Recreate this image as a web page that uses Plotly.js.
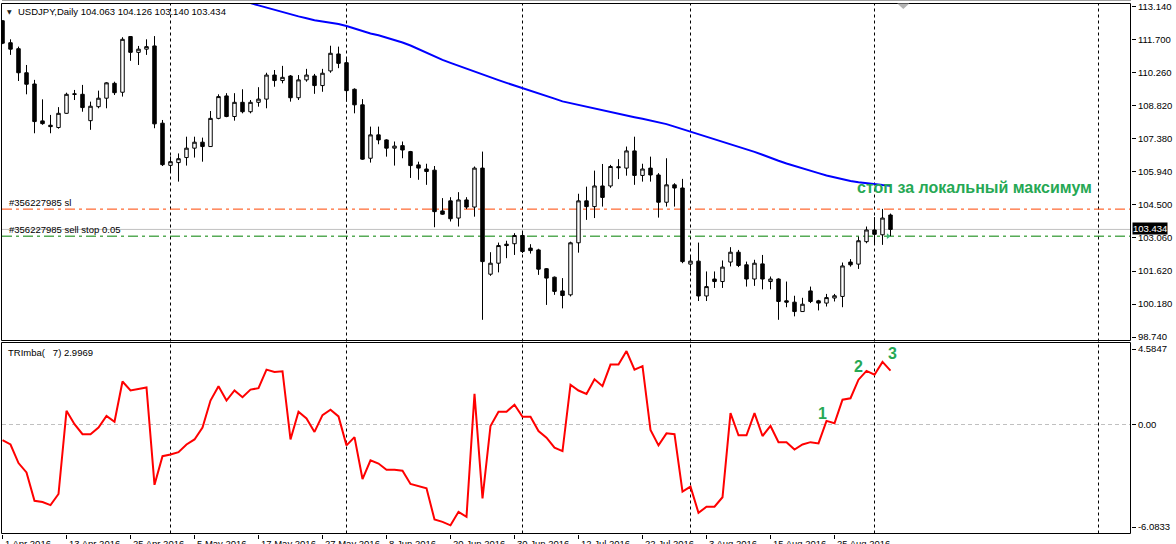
<!DOCTYPE html>
<html><head><meta charset="utf-8">
<script src="https://cdn.plot.ly/plotly-3.0.1.min.js"></script>
<style>html,body{margin:0;padding:0;background:#fff;overflow:hidden}#chart{width:1176px;height:544px}</style>
</head><body><div id="chart"></div>
<script>
// ---------------- DATA ----------------
const headerText = "USDJPY,Daily 104.063 104.126 103.140 103.434";
const indicatorText = "TRImba(\u00a0\u00a0\u00a07) 2.9969";
const noteText = "стоп за локальный максимум";
const slLabel = "#356227985 sl";
const sellStopLabel = "#356227985 sell stop 0.05";
const pointLabels = ["1", "2", "3"];

const openP = [112.54,111.58,111.32,110.27,109.78,108.17,107.98,107.88,108.50,109.35,
109.33,108.18,108.79,109.16,109.81,109.42,111.85,111.16,111.30,111.44,
108.07,106.23,106.35,106.57,106.98,107.24,107.05,108.28,109.26,108.36,
108.98,108.57,108.98,109.12,110.17,109.93,110.13,109.18,109.96,110.13,
109.71,110.35,111.09,110.71,109.55,108.87,106.54,107.56,107.34,106.98,
107.09,106.83,106.25,106.07,106.02,104.24,104.68,103.93,104.72,104.41,
106.11,101.48,101.96,102.79,102.81,103.17,102.62,102.54,101.72,101.35,
100.75,100.58,102.85,104.68,104.43,105.33,105.33,106.17,106.11,106.86,
105.79,106.11,105.81,104.62,105.38,105.24,101.92,102.05,100.53,101.27,
101.16,102.01,102.44,101.89,101.27,101.93,101.16,101.27,100.32,100.26,
99.85,100.75,100.32,100.22,100.44,100.51,102.01,101.92,102.90,103.41,
103.20,104.063];
const highP = [112.56,111.73,111.41,110.61,109.96,109.11,108.43,108.77,109.40,109.52,
109.74,109.01,109.49,109.86,109.88,111.82,111.87,111.44,111.73,111.87,
108.21,106.62,106.75,107.48,107.48,107.44,108.60,109.33,109.38,109.38,
109.55,109.08,109.64,110.27,110.39,110.57,110.17,110.17,110.44,110.22,
110.44,111.45,111.41,110.90,109.59,109.12,107.92,107.92,107.37,107.27,
107.27,106.86,106.39,106.30,106.20,104.80,104.84,105.06,104.84,106.18,
106.83,102.44,102.86,102.94,103.27,103.30,102.79,102.59,101.75,101.38,
101.31,102.90,104.99,105.30,106.00,106.29,106.25,106.50,107.05,107.48,
106.30,106.61,105.89,106.54,105.45,105.64,102.30,102.86,101.60,101.60,
102.08,102.66,102.54,102.03,102.11,102.32,101.38,101.30,101.16,100.54,
100.45,100.94,100.36,100.62,100.62,101.99,102.14,103.12,103.56,103.97,
104.33,104.126];
const lowP = [111.52,111.05,109.91,109.33,107.63,108.00,107.63,107.83,108.48,109.08,
108.57,107.78,108.72,108.72,109.30,109.23,110.79,110.61,111.05,107.85,
106.20,105.95,105.52,106.22,106.57,106.39,107.05,108.24,108.33,108.18,
108.50,108.50,108.79,108.72,109.66,109.81,109.01,109.08,109.88,109.35,
109.44,110.27,110.47,109.01,108.50,106.47,106.35,107.15,106.61,106.22,
106.54,105.68,105.60,105.38,103.53,104.07,103.78,103.56,104.32,103.99,
99.49,101.41,101.56,102.18,102.32,102.40,102.38,101.45,100.14,100.58,
99.99,100.51,102.42,103.85,103.93,104.43,105.25,105.63,105.78,105.38,
105.52,105.52,103.95,104.43,104.43,101.96,101.60,100.31,100.31,100.88,
100.88,101.82,101.79,100.94,100.97,100.82,100.82,99.49,100.04,99.64,
99.85,100.22,99.90,100.07,100.29,100.04,101.81,101.71,102.83,102.81,
102.76,103.140];
const closeP = [111.56,111.30,110.27,109.77,108.14,108.05,107.92,108.50,109.33,109.33,
108.75,108.81,109.16,109.83,109.40,111.73,111.16,111.30,111.41,108.04,
106.26,106.39,106.52,106.98,107.24,107.05,108.28,109.23,108.36,108.98,
108.57,108.98,109.12,110.17,109.93,110.07,109.18,109.96,110.17,109.71,
110.25,111.12,110.68,109.49,108.87,106.50,107.56,107.34,106.98,107.07,
106.90,106.22,106.11,105.96,104.21,104.10,103.90,104.72,104.41,106.11,
102.03,101.96,102.73,102.73,103.17,102.47,102.51,101.70,101.31,100.73,
100.55,102.85,104.68,104.43,105.33,104.83,106.18,106.13,106.86,105.79,
106.07,105.81,104.62,105.38,105.24,102.03,102.05,100.53,100.94,101.16,
101.79,102.44,101.86,101.27,101.96,101.27,101.27,100.29,100.26,99.85,
100.17,100.29,100.22,100.46,100.54,101.84,101.89,102.94,103.41,103.22,
103.93,103.434];

// blue moving average, starting at bar maStart
const maStart = 30;
const maValues = [113.36,113.31,113.21,113.11,113.00,112.90,112.81,112.73,112.65,112.56,
112.51,112.47,112.40,112.31,112.20,112.08,111.98,111.91,111.81,111.70,
111.59,111.46,111.30,111.13,110.98,110.83,110.70,110.57,110.44,110.31,
110.18,110.07,109.95,109.83,109.72,109.60,109.49,109.37,109.25,109.14,
109.02,108.94,108.87,108.79,108.71,108.64,108.56,108.47,108.39,108.33,
108.26,108.19,108.12,108.03,107.92,107.81,107.70,107.60,107.50,107.40,
107.28,107.17,107.06,106.94,106.82,106.69,106.55,106.43,106.31,106.20,
106.08,105.99,105.89,105.79,105.70,105.62,105.55,105.49,105.44,105.40,
105.37,105.34];

// TRImba(7) indicator
const trimba = [-0.87,-1.11,-2.14,-2.66,-4.24,-4.31,-4.48,-3.86,0.76,0.02,
-0.54,-0.54,-0.17,0.48,0.15,2.39,1.89,1.98,2.06,-3.35,
-1.76,-1.67,-1.54,-1.11,-0.83,-0.17,1.33,2.13,1.33,1.89,
1.52,1.94,2.02,3.05,2.92,2.96,-0.83,0.71,0.34,-0.41,
0.52,0.82,0.45,-1.16,-0.70,-3.03,-1.99,-2.17,-2.51,-2.51,
-2.57,-3.30,-3.41,-3.54,-5.28,-5.41,-5.60,-4.85,-5.13,1.70,
-4.10,-0.08,0.71,0.71,1.10,0.43,0.43,-0.36,-0.73,-1.29,
-1.48,2.21,1.89,1.70,2.51,2.13,3.33,3.33,4.08,3.05,
3.24,-0.30,-1.16,-0.49,-0.54,-3.73,-3.45,-4.91,-4.57,-4.57,
-4.04,0.63,-0.60,-0.60,0.63,-0.64,-0.08,-0.98,-0.98,-1.39,
-1.11,-0.98,-1.05,0.20,0.07,1.38,1.46,2.49,2.98,2.77,
3.48,2.9969];

const dateLabels = ["1 Apr 2016","13 Apr 2016","25 Apr 2016","5 May 2016","17 May 2016","27 May 2016",
"8 Jun 2016","20 Jun 2016","30 Jun 2016","12 Jul 2016","22 Jul 2016","3 Aug 2016","15 Aug 2016","25 Aug 2016"];
const dateLabelBars = [0,8,16,24,32,40,48,56,64,72,80,88,96,104];
const separatorBars = [21,43,65,86,109,137];
const priceTicks = [113.140,111.700,110.260,108.820,107.380,105.940,104.500,103.060,101.620,100.180,98.740];
const indMax = 4.5847, indMin = -6.0833;
const slPrice = 104.32, sellStopPrice = 103.140, bidPrice = 103.434;
const pointBars = [102.45, 106.95, 111.2];
const pointValues = [0.64, 3.22, 3.97];

// ---------------- LAYOUT HELPERS ----------------
const W = 1176, H = 544;
const M = {l: 2, r: 45, t: 3, b: 10};
const plotW = W - M.l - M.r, plotH = H - M.t - M.b;
const mainBottomPx = 340, indTopPx = 342;
const mainDomain = [(H - M.b - mainBottomPx) / plotH, 1];
const indDomain = [0, (H - M.b - indTopPx) / plotH];
const px = x => (x - M.l) / plotW;
const py = y => (H - M.b - y) / plotH;
const BAR_PX = 8, FIRST_BAR_PX = 2.5;
const xRange = [(M.l - FIRST_BAR_PX) / BAR_PX, (M.l + plotW - FIRST_BAR_PX) / BAR_PX];

const FONT = "'Liberation Sans', Arial, sans-serif";
const FS = 9.5;
const GREEN_TXT = "rgb(38,168,84)";

const bars = openP.map((_, i) => i);

const traces = [
  {
    type: 'candlestick', x: bars, open: openP, high: highP, low: lowP, close: closeP,
    xaxis: 'x', yaxis: 'y', hoverinfo: 'skip', whiskerwidth: 0,
    increasing: {line: {color: '#000', width: 1}, fillcolor: '#fff'},
    decreasing: {line: {color: '#000', width: 1}, fillcolor: '#000'}
  },
  {
    type: 'scatter', mode: 'lines', x: maValues.map((_, i) => maStart + i), y: maValues,
    xaxis: 'x', yaxis: 'y', line: {color: '#0000ff', width: 2}, hoverinfo: 'skip'
  },
  {
    type: 'scatter', mode: 'lines', x: bars, y: trimba,
    xaxis: 'x', yaxis: 'y2', line: {color: '#ff0000', width: 2}, hoverinfo: 'skip'
  },
  {
    type: 'scatter', mode: 'markers', x: [bars[bars.length - 1] - 0.3], y: [sellStopPrice],
    xaxis: 'x', yaxis: 'y', marker: {symbol: 'triangle-right', size: 5, color: 'rgb(60,179,113)'}, hoverinfo: 'skip'
  }
];

const shapes = [];
// panel frames (half-pixel aligned for crisp 1px lines)
const L = px(1.5), R = px(1130.5);
shapes.push({type: 'rect', xref: 'paper', yref: 'paper', x0: L, x1: R, y0: py(340.5), y1: py(3.5), line: {color: '#000', width: 1}, layer: 'above'});
shapes.push({type: 'rect', xref: 'paper', yref: 'paper', x0: L, x1: R, y0: py(533.5), y1: py(342.5), line: {color: '#000', width: 1}, layer: 'above'});
shapes.push({type: 'line', xref: 'paper', yref: 'paper', x0: 0, x1: 1, y0: py(0.5), y1: py(0.5), line: {color: '#a0a0a0', width: 1}});
// month separators
separatorBars.forEach(b => shapes.push({type: 'line', xref: 'x', yref: 'paper', x0: b, x1: b, y0: py(533.5), y1: py(3.5),
  line: {color: '#000', width: 1, dash: '3px,3px'}, layer: 'below'}));
// bid line, SL, sell stop
shapes.push({type: 'line', xref: 'paper', yref: 'y', x0: 0, x1: 1, y0: bidPrice, y1: bidPrice, line: {color: '#c0c0c0', width: 1}, layer: 'below'});
shapes.push({type: 'line', xref: 'paper', yref: 'y', x0: 0, x1: 1, y0: slPrice, y1: slPrice, line: {color: 'rgb(255,69,0)', width: 1, dash: '10px,4px,3px,4px'}, layer: 'below'});
shapes.push({type: 'line', xref: 'paper', yref: 'y', x0: 0, x1: 1, y0: sellStopPrice, y1: sellStopPrice, line: {color: 'rgb(0,128,0)', width: 1, dash: '10px,4px,3px,4px'}, layer: 'below'});
// indicator zero level
shapes.push({type: 'line', xref: 'paper', yref: 'y2', x0: 0, x1: 1, y0: 0, y1: 0, line: {color: '#c0c0c0', width: 1, dash: '4px,3px'}, layer: 'below'});
// chart shift marker
const shiftBar = 112.6;
shapes.push({type: 'path', xref: 'x', yref: 'paper', path: `M ${shiftBar - 0.75} ${py(3.5)} L ${shiftBar + 0.75} ${py(3.5)} L ${shiftBar} ${py(9)} Z`,
  fillcolor: '#b4b4b4', line: {width: 0}});

const annotations = [];
const txt = (text, x, y, opts = {}) => Object.assign({text, x, y, xref: 'paper', yref: 'paper', showarrow: false,
  xanchor: 'left', yanchor: 'middle', font: {family: FONT, size: FS, color: '#000'}}, opts);

annotations.push(txt('\u25BC', px(5), py(12), {font: {family: 'DejaVu Sans', size: 6, color: '#222'}}));
annotations.push(txt(headerText, px(16), py(12)));
annotations.push(txt(slLabel, px(7), slPrice, {yref: 'y', yanchor: 'bottom', yshift: -1}));
annotations.push(txt(sellStopLabel, px(7), sellStopPrice, {yref: 'y', yanchor: 'bottom', yshift: -1}));
annotations.push(txt(indicatorText, px(6), py(352)));
annotations.push(txt(noteText, px(855), py(188), {font: {family: FONT, size: 16, color: GREEN_TXT, weight: 'bold'}}));
pointLabels.forEach((t, i) => annotations.push({text: t, x: pointBars[i], y: pointValues[i], xref: 'x', yref: 'y2', showarrow: false,
  xanchor: 'center', yanchor: 'middle', font: {family: FONT, size: 16, color: GREEN_TXT, weight: 'bold'}}));
// current price box
annotations.push({text: bidPrice.toFixed(3), x: 1, y: bidPrice, xref: 'paper', yref: 'y', showarrow: false, xanchor: 'left',
  yanchor: 'middle', xshift: 1, yshift: 1, bgcolor: '#000', borderpad: 0, font: {family: FONT, size: FS, color: '#fff'}});
// date labels
dateLabels.forEach((t, i) => annotations.push({text: t, x: dateLabelBars[i], y: 0, xref: 'x', yref: 'paper', showarrow: false,
  xanchor: 'left', yanchor: 'top', xshift: 0, yshift: -2, font: {family: FONT, size: FS, color: '#000'}}));

const indPxU = (H - M.b - indTopPx) / (indMax - indMin);
const indTickVals = [indMax - 7 / indPxU, 0, indMin + 7 / indPxU];
const indTickText = [indMax.toFixed(4), '0.00', indMin.toFixed(4)];

const layout = {
  width: W, height: H, margin: M, paper_bgcolor: '#fff', plot_bgcolor: '#fff', showlegend: false,
  font: {family: FONT, size: FS, color: '#000'},
  xaxis: {range: xRange, anchor: 'y2', showgrid: false, zeroline: false, showline: false,
    tickvals: dateLabelBars, ticks: 'outside', ticklen: 4, tickcolor: '#000', showticklabels: false,
    rangeslider: {visible: false}, fixedrange: true},
  yaxis: {domain: mainDomain, range: [98.609, 113.314], side: 'right', anchor: 'x', showgrid: false, zeroline: false,
    showline: false, tickvals: priceTicks, ticktext: priceTicks.map(v => v.toFixed(3)), ticks: 'outside', ticklen: 4,
    tickcolor: '#000', tickfont: {family: FONT, size: FS, color: '#000'}, fixedrange: true},
  yaxis2: {domain: indDomain, range: [indMin, indMax], side: 'right', anchor: 'x', showgrid: false, zeroline: false,
    showline: false, tickvals: indTickVals, ticktext: indTickText, ticks: 'outside', ticklen: 4,
    tickcolor: '#000', tickfont: {family: FONT, size: FS, color: '#000'}, fixedrange: true},
  boxgap: 0.38,
  shapes, annotations
};

Plotly.newPlot('chart', traces, layout, {staticPlot: true, displayModeBar: false});
</script>
</body></html>
